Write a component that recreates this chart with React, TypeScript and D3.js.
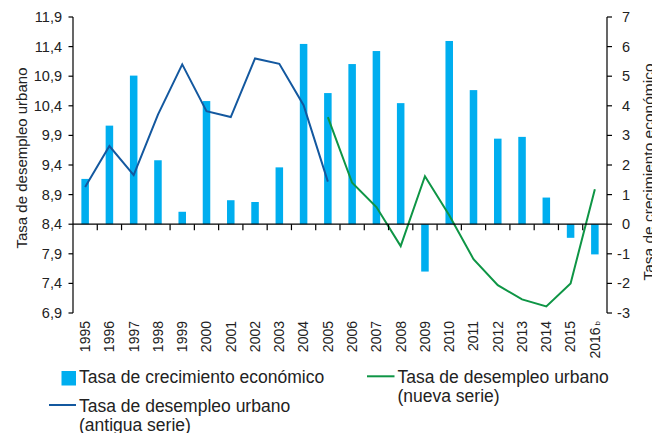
import React from "react";
import * as d3 from "d3";

// data
const years = [
  "1995", "1996", "1997", "1998", "1999", "2000", "2001", "2002", "2003", "2004", "2005",
  "2006", "2007", "2008", "2009", "2010", "2011", "2012", "2013", "2014", "2015", "2016",
];
const growth = [
  1.53, 3.33, 5.02, 2.16, 0.42, 4.16, 0.81, 0.75, 1.92, 6.09, 4.43,
  5.41, 5.85, 4.09, -1.6, 6.19, 4.53, 2.89, 2.95, 0.9, -0.46, -1.02,
];
const oldYears = ["1995", "1996", "1997", "1998", "1999", "2000", "2001", "2002", "2003", "2004", "2005"];
const oldUnemployment = [9.03, 9.72, 9.23, 10.25, 11.1, 10.31, 10.21, 11.2, 11.11, 10.41, 9.12];
const newYears = ["2005", "2006", "2007", "2008", "2009", "2010", "2011", "2012", "2013", "2014", "2015", "2016"];
const newUnemployment = [10.21, 9.1, 8.69, 8.03, 9.21, 8.55, 7.81, 7.37, 7.13, 7.01, 7.4, 8.99];
const leftTicks = [6.9, 7.4, 7.9, 8.4, 8.9, 9.4, 9.9, 10.4, 10.9, 11.4, 11.9];
const rightTicks = [-3, -2, -1, 0, 1, 2, 3, 4, 5, 6, 7];

const width = 652;
const height = 433;
const margin = { top: 17, right: 45, bottom: 120, left: 73 };
const font = "Arial, 'Liberation Sans', sans-serif";

const barColor = "#00aeef";
const oldColor = "#13589f";
const newColor = "#0e9545";

const fmt = (v: number) => v.toFixed(1).replace(".", ",");

const App = () => {
  const innerWidth = width - margin.left - margin.right;
  const x0 = margin.left;
  const x1 = margin.left + innerWidth;
  const yTop = margin.top;
  const yBottom = height - margin.bottom;

  const xScale = d3.scaleBand().domain(years).range([x0, x1]).padding(0);
  const cx = (yr: string) => (xScale(yr) as number) + xScale.bandwidth() / 2;
  const barW = xScale.bandwidth() * 0.31;

  const yLeft = d3.scaleLinear().domain([6.9, 11.9]).range([yBottom, yTop]);
  const yRight = d3.scaleLinear().domain([-3, 7]).range([yBottom, yTop]);
  const zeroY = yRight(0);

  const oldLine = d3
    .line<number>()
    .x((d, i) => cx(oldYears[i]))
    .y((d) => yLeft(d));
  const newLine = d3
    .line<number>()
    .x((d, i) => cx(newYears[i]))
    .y((d) => yLeft(d));

  return (
    <svg
      width={width}
      height={height}
      style={{ position: "absolute", left: 0, top: 0, fontFamily: font }}
    >
      <rect width={width} height={height} fill="#fff" />
      {
        // Bars
        growth.map((v, i) => (
          <rect
            key={years[i]}
            x={cx(years[i]) - barW / 2}
            y={Math.min(yRight(v), zeroY)}
            width={barW}
            height={Math.abs(yRight(v) - zeroY)}
            fill={barColor}
          />
        ))
      }
      {/* Lines */}
      <path d={oldLine(oldUnemployment) || ""} fill="none" stroke={oldColor} strokeWidth={2} />
      <path d={newLine(newUnemployment) || ""} fill="none" stroke={newColor} strokeWidth={2} />

      {/* Left axis */}
      <line x1={x0} x2={x0} y1={yTop} y2={yBottom} stroke="#000" strokeWidth={1.2} />
      {leftTicks.map((t) => (
        <g key={t} transform={`translate(0,${yLeft(t)})`}>
          <line x1={x0 - 4.5} x2={x0} stroke="#000" strokeWidth={1.2} />
          <text x={x0 - 11} dy=".35em" textAnchor="end" fontSize={14.5} fill="#222">
            {fmt(t)}
          </text>
        </g>
      ))}
      <text
        transform={`translate(27,158) rotate(-90)`}
        textAnchor="middle"
        fontSize={15}
        fill="#222"
      >
        Tasa de desempleo urbano
      </text>

      {/* Right axis */}
      <line x1={x1} x2={x1} y1={yTop} y2={yBottom} stroke="#000" strokeWidth={1.2} />
      {rightTicks.map((t) => (
        <g key={t} transform={`translate(0,${yRight(t)})`}>
          <line x1={x1} x2={x1 + 5} stroke="#000" strokeWidth={1.2} />
          <text x={630} dy=".35em" textAnchor="end" fontSize={14.5} fill="#222">
            {t}
          </text>
        </g>
      ))}
      <text
        transform={`translate(654,172) rotate(-90)`}
        textAnchor="middle"
        fontSize={15.5}
        fill="#222"
      >
        Tasa de crecimiento económico
      </text>

      {/* Category axis at zero */}
      <line x1={x0} x2={x1} y1={zeroY} y2={zeroY} stroke="#000" strokeWidth={1.2} />
      {years.slice(1).map((yr) => (
        <line
          key={yr}
          x1={xScale(yr)}
          x2={xScale(yr)}
          y1={zeroY}
          y2={zeroY + 6}
          stroke="#000"
          strokeWidth={1.2}
        />
      ))}
      {years.map((yr) => (
        <text
          key={yr}
          transform={`translate(${cx(yr)},${yBottom + 8}) rotate(-90)`}
          textAnchor="end"
          dy=".35em"
          fontSize={14}
          fill="#222"
        >
          {yr}
          {yr === "2016" ? <tspan fontSize={8} dx={2}>b</tspan> : null}
        </text>
      ))}

      {/* Legend */}
      <rect x={61.5} y={371} width={14.5} height={14.5} fill={barColor} />
      <text x={79} y={382.7} fontSize={17.5} fill="#222">
        Tasa de crecimiento económico
      </text>
      <line x1={367} x2={394.5} y1={376.3} y2={376.3} stroke={newColor} strokeWidth={2} />
      <text x={397.5} y={382.7} fontSize={17.5} fill="#222">
        <tspan x={397.5}>Tasa de desempleo urbano</tspan>
        <tspan x={397.5} dy={19}>(nueva serie)</tspan>
      </text>
      <line x1={49} x2={76} y1={405} y2={405} stroke={oldColor} strokeWidth={2} />
      <text x={79} y={412.3} fontSize={17.5} fill="#222">
        <tspan x={79}>Tasa de desempleo urbano</tspan>
        <tspan x={79} dy={18.5}>(antigua serie)</tspan>
      </text>
    </svg>
  );
};

export default App;
